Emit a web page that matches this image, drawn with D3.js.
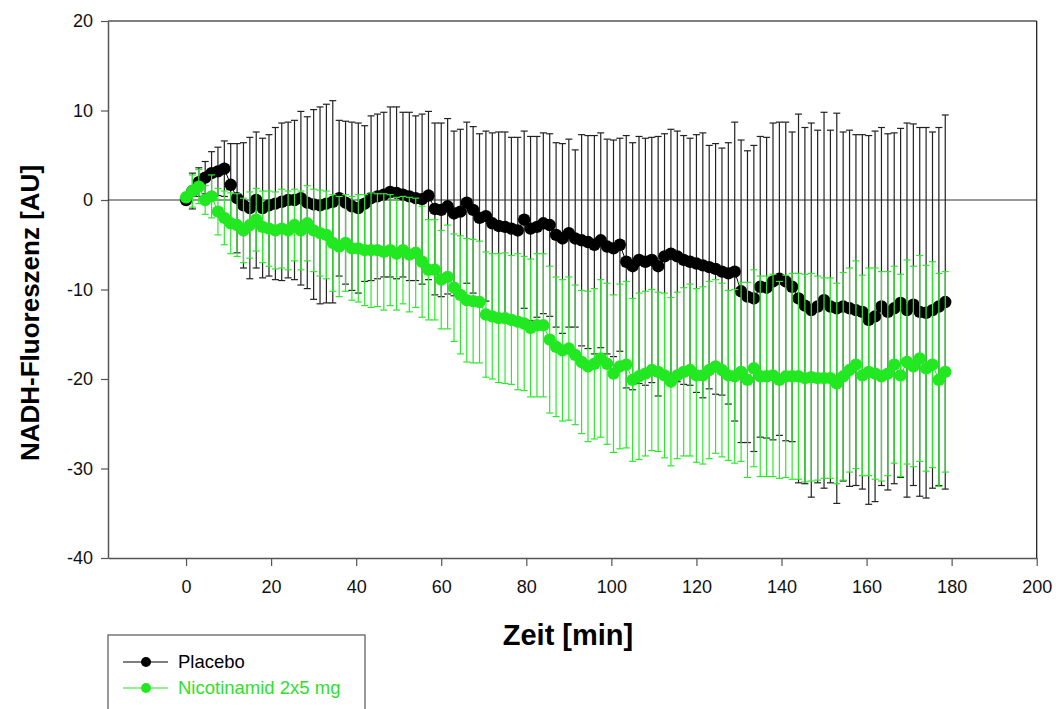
<!DOCTYPE html>
<html>
<head>
<meta charset="utf-8">
<script src="https://cdn.jsdelivr.net/npm/d3@7"></script>
<style>
  body { margin: 0; background: #fff; }
  svg { display: block; font-family: "Liberation Sans", Arial, sans-serif; }
</style>
</head>
<body>
<svg id="chart" width="1056" height="709"></svg>
<script>
// sampling times [min]
const times = [
  0, 1.5, 3, 4.5, 6, 7.5, 9, 10.5, 12, 13.5,
  15, 16.5, 18, 19.5, 21, 22.5, 24, 25.5, 27, 28.5,
  30, 31.5, 33, 34.5, 36, 37.5, 39, 40.5, 42, 43.5,
  45, 46.5, 48, 49.5, 51, 52.5, 54, 55.5, 57, 58.5,
  60, 61.5, 63, 64.5, 66, 67.5, 69, 70.5, 72, 73.5,
  75, 76.5, 78, 79.5, 81, 82.5, 84, 85.5, 87, 88.5,
  90, 91.5, 93, 94.5, 96, 97.5, 99, 100.5, 102, 103.5,
  105, 106.5, 108, 109.5, 111, 112.5, 114, 115.5, 117, 118.5,
  120, 121.5, 123, 124.5, 126, 127.5, 129, 130.5, 132, 133.5,
  135, 136.5, 138, 139.5, 141, 142.5, 144, 145.5, 147, 148.5,
  150, 151.5, 153, 154.5, 156, 157.5, 159, 160.5, 162, 163.5,
  165, 166.5, 168, 169.5, 171, 172.5, 174, 175.5, 177, 178.5
];

// Placebo: mean and SD
const placeboMean = [
  0.0, 1.0, 2.0, 2.5, 3.0, 3.2, 3.5, 1.7, 0.2, -0.6,
  -0.9, 0.0, -0.9, -0.6, -0.4, -0.2, 0.0, 0.0, 0.2, -0.3,
  -0.5, -0.6, -0.4, -0.2, 0.2, -0.3, -0.7, -0.9, -0.4, 0.2,
  0.4, 0.6, 0.9, 0.8, 0.6, 0.4, 0.2, 0.1, 0.5, -1.0,
  -1.1, -0.7, -1.5, -1.3, -0.3, -1.1, -2.0, -1.8, -2.6, -2.9,
  -3.0, -3.2, -3.4, -2.2, -3.2, -3.0, -2.6, -2.8, -3.9, -4.3,
  -3.7, -4.3, -4.5, -4.7, -5.0, -4.5, -5.2, -5.4, -5.0, -6.9,
  -7.4, -6.7, -6.9, -6.7, -7.4, -6.3, -6.0, -6.3, -6.7, -6.9,
  -7.1, -7.3, -7.5, -7.7, -8.0, -8.2, -8.0, -10.2, -10.8, -11.0,
  -9.7, -9.8, -9.1, -8.8, -9.1, -9.7, -11.0, -11.8, -12.3, -11.9,
  -11.2, -11.9, -12.1, -11.9, -12.1, -12.3, -12.5, -13.4, -13.0, -11.9,
  -12.5, -12.1, -11.5, -12.3, -11.7, -12.5, -12.6, -12.3, -11.9, -11.4
];
const placeboSD = [
  0.3, 2.0, 1.6, 1.8, 2.4, 2.7, 3.1, 4.6, 6.1, 7.0,
  7.9, 7.6, 7.8, 7.9, 8.5, 8.8, 8.7, 8.9, 9.7, 9.6,
  10.6, 11.0, 11.1, 11.3, 8.7, 9.1, 9.4, 9.5, 8.7, 9.2,
  9.2, 9.2, 9.5, 9.6, 9.2, 9.4, 9.2, 9.5, 9.4, 9.6,
  9.7, 9.8, 9.2, 9.2, 9.0, 9.3, 9.4, 9.5, 10.1, 10.5,
  10.6, 10.2, 10.4, 9.9, 10.3, 10.1, 10.1, 10.2, 10.3, 10.6,
  10.5, 9.9, 11.8, 11.9, 12.2, 12.0, 12.0, 12.1, 11.9, 14.1,
  13.8, 13.8, 13.8, 13.7, 14.5, 13.7, 13.9, 14.0, 13.9, 13.8,
  14.4, 14.8, 13.6, 14.0, 13.8, 14.6, 16.7, 16.9, 16.3, 17.1,
  16.8, 16.8, 17.7, 17.5, 17.8, 17.3, 20.6, 19.9, 20.9, 19.7,
  21.0, 19.7, 21.8, 19.5, 19.9, 19.6, 19.8, 20.6, 20.7, 20.0,
  19.9, 19.6, 19.5, 20.9, 20.2, 20.6, 20.7, 19.9, 20.0, 20.9
];

// Nicotinamid 2x5 mg: mean and SD
const nicoMean = [
  0.3, 1.0, 1.5, 0.0, 0.4, -1.3, -2.0, -2.6, -2.8, -3.4,
  -2.8, -2.2, -3.0, -3.2, -3.4, -3.2, -3.4, -2.8, -3.4, -2.6,
  -3.4, -3.7, -3.9, -4.8, -5.2, -4.8, -5.4, -5.4, -5.6, -5.6,
  -5.6, -5.8, -5.6, -6.0, -5.6, -6.1, -5.9, -6.9, -7.8, -7.8,
  -8.9, -8.6, -9.8, -10.6, -11.2, -11.3, -11.4, -12.8, -13.0, -13.2,
  -13.2, -13.4, -13.6, -13.8, -14.3, -14.0, -14.0, -15.6, -16.4, -16.8,
  -16.6, -17.3, -18.1, -18.6, -18.3, -17.7, -18.3, -19.4, -18.6, -18.4,
  -20.1, -19.7, -19.4, -19.0, -19.2, -19.6, -20.3, -19.6, -19.2, -19.0,
  -19.6, -19.6, -19.0, -18.6, -19.0, -19.6, -19.7, -19.2, -20.1, -18.8,
  -19.7, -19.7, -19.6, -20.1, -19.7, -19.7, -19.7, -19.9, -19.8, -19.9,
  -19.9, -19.9, -20.5, -19.7, -19.0, -18.4, -19.6, -19.2, -19.4, -19.7,
  -19.4, -18.4, -19.6, -18.1, -18.6, -17.7, -18.8, -18.4, -20.1, -19.2
];
const nicoSD = [
  0.5, 1.8, 1.9, 1.6, 2.4, 2.6, 3.0, 3.4, 3.5, 3.6,
  3.7, 3.5, 4.0, 4.2, 4.3, 4.4, 4.4, 4.0, 4.4, 4.2,
  4.6, 4.8, 4.9, 5.4, 5.6, 5.4, 5.8, 6.0, 6.2, 6.4,
  6.3, 6.5, 6.2, 6.3, 6.0, 6.4, 6.1, 6.2, 5.6, 5.6,
  5.5, 5.8, 6.0, 6.6, 6.9, 6.9, 6.8, 7.0, 7.0, 7.2,
  7.3, 7.2, 7.6, 7.5, 7.7, 8.0, 8.0, 8.2, 7.8, 7.9,
  8.0, 7.8, 8.0, 8.4, 8.4, 8.8, 9.0, 8.8, 9.2, 9.3,
  9.1, 9.3, 9.2, 9.0, 8.9, 9.2, 9.4, 9.3, 9.4, 9.6,
  9.7, 9.9, 9.9, 9.7, 9.7, 9.5, 9.7, 10.0, 10.9, 11.0,
  11.2, 11.2, 11.3, 11.0, 11.3, 11.5, 11.5, 11.6, 11.6, 11.4,
  11.2, 11.2, 11.2, 11.6, 11.4, 11.6, 11.2, 11.6, 11.8, 11.7,
  11.4, 11.0, 11.3, 11.4, 11.2, 11.5, 11.5, 11.5, 11.9, 11.2
];

const xTicks = [0, 20, 40, 60, 80, 100, 120, 140, 160, 180, 200];
const yTicks = [-40, -30, -20, -10, 0, 10, 20];
const seriesNames = ["Placebo", "Nicotinamid 2x5 mg"];

const black = "#000";
const green = "#22e822";

const svg = d3.select("#chart");

const x = d3.scaleLinear().domain([-18.35, 200]).range([108, 1036.7]);
const y = d3.scaleLinear().domain([-40, 20]).range([558, 21]);

// axes (plain hyphen for negatives, like the original)
const yAxis = svg.append("g")
    .attr("transform", `translate(${x(-18.35)},0)`)
    .call(d3.axisLeft(y).tickValues(yTicks).tickFormat(d => String(d))
        .tickSize(7).tickSizeOuter(0).tickPadding(8));
const xAxis = svg.append("g")
    .attr("transform", `translate(0,${y(-40)})`)
    .call(d3.axisBottom(x).tickValues(xTicks).tickFormat(d => String(d))
        .tickSize(8).tickSizeOuter(0).tickPadding(14));

[yAxis, xAxis].forEach(g => {
    g.select(".domain").attr("stroke", "#555").attr("stroke-width", 1.5);
    g.selectAll(".tick line").attr("stroke", "#555").attr("stroke-width", 1.2);
    g.selectAll(".tick text").attr("font-size", 18).attr("fill", "#111")
        .attr("font-family", "Liberation Sans, Arial, sans-serif");
});

// top and right frame
svg.append("line")
    .attr("x1", x(-18.35)).attr("x2", x(200)).attr("y1", y(20)).attr("y2", y(20))
    .attr("stroke", "#555").attr("stroke-width", 1.5);
svg.append("line")
    .attr("x1", x(200)).attr("x2", x(200)).attr("y1", y(20)).attr("y2", y(-40))
    .attr("stroke", "#111").attr("stroke-width", 1.2);

// zero line
svg.append("line")
    .attr("x1", x(-18.35)).attr("x2", x(200)).attr("y1", y(0)).attr("y2", y(0))
    .attr("stroke", "#333").attr("stroke-width", 1);

function drawSeries(mean, sd, color, barColor) {
    const data = times.map((t, i) => ({ t: t, m: mean[i], s: sd[i] }));
    const g = svg.append("g");
    const bars = g.append("g").attr("stroke", barColor).attr("stroke-width", 1.2);
    data.forEach(d => {
        const xx = x(d.t);
        bars.append("line").attr("x1", xx).attr("x2", xx)
            .attr("y1", y(d.m + d.s)).attr("y2", y(d.m - d.s));
        [d.m + d.s, d.m - d.s].forEach(v => {
            bars.append("line").attr("x1", xx - 3.5).attr("x2", xx + 3.5)
                .attr("y1", y(v)).attr("y2", y(v));
        });
    });
    g.append("path")
        .datum(data)
        .attr("fill", "none")
        .attr("stroke", color)
        .attr("stroke-width", 1)
        .attr("d", d3.line().x(d => x(d.t)).y(d => y(d.m)));
    g.selectAll("circle")
        .data(data)
        .join("circle")
        .attr("cx", d => x(d.t))
        .attr("cy", d => y(d.m))
        .attr("r", 6.2)
        .attr("fill", color);
}

drawSeries(placeboMean, placeboSD, black, "#222");
drawSeries(nicoMean, nicoSD, green, "#2ee82e");

// axis titles
svg.append("text")
    .attr("x", 568).attr("y", 645)
    .attr("text-anchor", "middle")
    .attr("font-size", 29).attr("font-weight", "bold")
    .text("Zeit [min]");
svg.append("text")
    .attr("transform", "translate(39,313) rotate(-90)")
    .attr("text-anchor", "middle")
    .attr("font-size", 26).attr("font-weight", "bold")
    .text("NADH-Fluoreszenz [AU]");

// legend
const legend = svg.append("g");
legend.append("rect")
    .attr("x", 108).attr("y", 635).attr("width", 257).attr("height", 90)
    .attr("fill", "#fff").attr("stroke", "#555").attr("stroke-width", 1.2);
const legendColors = [black, green];
seriesNames.forEach((name, i) => {
    const ly = 662 + i * 26;
    legend.append("line").attr("x1", 123).attr("x2", 168).attr("y1", ly).attr("y2", ly)
        .attr("stroke", legendColors[i]).attr("stroke-width", 1.2);
    legend.append("circle").attr("cx", 146).attr("cy", ly).attr("r", 5)
        .attr("fill", legendColors[i]);
    legend.append("text").attr("x", 178).attr("y", ly + 6)
        .attr("font-size", 18.5).attr("fill", i === 0 ? "#000" : "#2ee02e")
        .text(name);
});
</script>
</body>
</html>
